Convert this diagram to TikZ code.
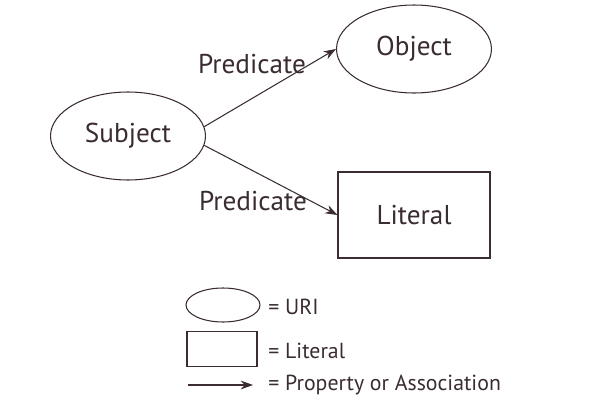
\documentclass[tikz,border=0pt]{standalone}
\usepackage{fontspec}
\setmainfont{PT Sans}
\definecolor{inkgray}{RGB}{58, 44, 48}
\usetikzlibrary{shapes.geometric,arrows.meta}

\begin{document}
\begin{tikzpicture}[
                    x=0.02cm,
                    y=-0.02cm,
                    line width=0.6pt,
                    draw=inkgray,
                    text=inkgray,
                    every node/.style={
                        font=\fontsize{15.5}{18}\selectfont
                    },
                    uri/.style={
                        ellipse,
                        draw=inkgray,
                        minimum width=3.1cm,
                        minimum height=1.76cm
                    },
                    literal/.style={
                        rectangle,
                        draw=inkgray,
                        minimum width=3.04cm,
                        minimum height=1.72cm
                    },
                    property/.style={
                        draw=inkgray,
                        -{Stealth[length=7pt,width=5pt]}
                    },
                    legend/.style={
                        anchor=west,
                        font=\fontsize{12.4}{15}\selectfont
                    }
                ]
                    \useasboundingbox (0,0) rectangle (600,413);
                    % triple
                    \node[uri] (subject) at (128,136) {Subject};
                    \node[uri] (object) at (414,49) {Object};
                    \node[literal] (literal) at (414,215) {Literal};
                    \draw[property] (subject.7) -- (object.west);
                    \draw[property] (subject.-7) -- (literal.west);
                    \node (predA) at (252,64) {Predicate};
                    \node (predB) at (253,201) {Predicate};
                    % key
                    \node[uri, minimum width=1.48cm, minimum height=0.68cm] (keyUri) at (223,305) {};
                    \node[legend] (keyUriText) at (262,307) {= URI};
                    \node[literal, minimum width=1.4cm, minimum height=0.7cm] (keyLiteral) at (222,349) {};
                    \node[legend] (keyLiteralText) at (262,351) {= Literal};
                    \coordinate (keyFrom) at (188,385);
                    \coordinate (keyTo) at (253,385);
                    \draw[property] (keyFrom) -- (keyTo);
                    \node[legend] (keyPropertyText) at (262,385) {= Property or Association};
                \end{tikzpicture}
\end{document}
